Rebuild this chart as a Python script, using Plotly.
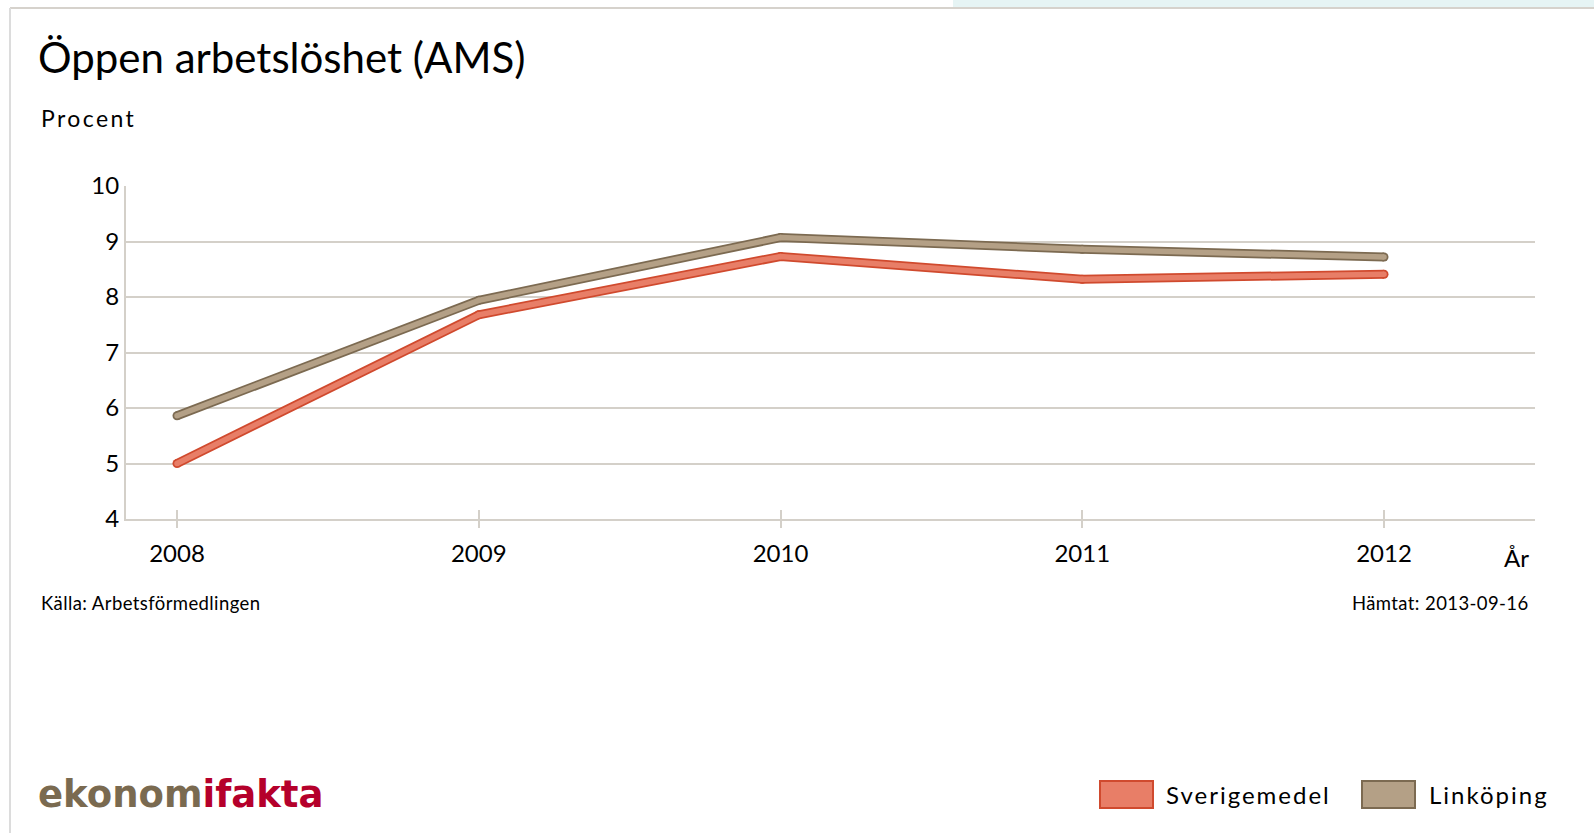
import plotly.graph_objects as go

# ---- data ----
years = [2008, 2009, 2010, 2011, 2012]
sverigemedel = [5.0, 7.68, 8.73, 8.32, 8.41]
linkoping = [5.86, 7.94, 9.07, 8.86, 8.72]
series_names = ["Sverigemedel", "Linköping"]
y_ticks = [4, 5, 6, 7, 8, 9, 10]
x_tick_labels = ["2008", "2009", "2010", "2011", "2012"]

# ---- styling ----
RED_DARK, RED_LIGHT = "#d04a2e", "#e87e67"
BRN_DARK, BRN_LIGHT = "#7c6a51", "#b4a086"
GRID = "#d4d0c9"
FONT = "Lato"

W, H = 1594, 833
PL, PR, PT, PB = 126, 1535, 186, 519  # plot area in pixels


def px(x):
    return (x - PL) / (PR - PL)


def py(y):
    return (PB - y) / (PB - PT)


XR = [2008 - (177 - PL) / 301.75, 2012 + (PR - 1384) / 301.75]

fig = go.Figure()

series = [
    (series_names[1], linkoping, BRN_DARK, BRN_LIGHT),
    (series_names[0], sverigemedel, RED_DARK, RED_LIGHT),
]
for name, vals, dark, light in series:
    fig.add_trace(go.Scatter(
        x=years, y=vals, mode="lines+markers",
        line=dict(color=dark, width=9),
        marker=dict(size=9, color=dark, line=dict(width=0)),
        showlegend=False, hoverinfo="skip",
    ))
for name, vals, dark, light in series:
    fig.add_trace(go.Scatter(
        x=years, y=vals, mode="lines+markers", name=name, xaxis="x2",
        line=dict(color=light, width=5.5),
        marker=dict(size=5.5, color=light, line=dict(width=0)),
        showlegend=False,
    ))

fig.update_layout(
    width=W, height=H,
    margin=dict(l=PL, r=W - PR, t=PT, b=H - PB, pad=0),
    paper_bgcolor="white", plot_bgcolor="white",
    font=dict(family=FONT, color="#000000"),
    showlegend=False,
    xaxis=dict(
        range=XR, tickvals=years, ticktext=x_tick_labels,
        showgrid=False, zeroline=False,
        showline=True, linecolor=GRID, linewidth=2,
        ticks="outside", ticklen=7, tickwidth=2, tickcolor=GRID,
        tickfont=dict(size=24, family=FONT, color="#000"),
        ticklabelstandoff=5,
    ),
    xaxis2=dict(
        range=XR, overlaying="x", anchor="y", side="bottom",
        tickvals=years, showticklabels=False,
        showgrid=False, zeroline=False, showline=False,
        ticks="inside", ticklen=9, tickwidth=2, tickcolor=GRID,
    ),
    yaxis=dict(
        range=[4, 10], tickvals=y_ticks,
        showgrid=True, gridcolor=GRID, gridwidth=2,
        zeroline=False, showline=True, linecolor=GRID, linewidth=2,
        ticks="", tickfont=dict(size=24, family=FONT, color="#000"),
        ticklabelstandoff=0,
    ),
)

shapes = [
    # top cyan band
    dict(type="rect", xref="paper", yref="paper", x0=px(953), x1=px(W), y0=py(0), y1=py(7),
         fillcolor="#e6f4f4", line=dict(width=0), layer="below"),
    # frame top & left
    dict(type="line", xref="paper", yref="paper", x0=px(10), x1=px(W), y0=py(8), y1=py(8),
         line=dict(color="#d6d2cc", width=2)),
    dict(type="line", xref="paper", yref="paper", x0=px(10), x1=px(10), y0=py(8), y1=py(H),
         line=dict(color="#dcdcdc", width=2)),
]

# manual legend (boxes)
legend_items = [
    (series_names[0], RED_DARK, RED_LIGHT, 1100, 1164),
    (series_names[1], BRN_DARK, BRN_LIGHT, 1362, 1427),
]
annotations = []
for name, dark, light, bx, tx in legend_items:
    shapes.append(dict(type="rect", xref="paper", yref="paper",
                       x0=px(bx), x1=px(bx + 53), y0=py(808), y1=py(781),
                       fillcolor=light, line=dict(color=dark, width=2)))
    annotations.append(dict(xref="paper", yref="paper", x=px(tx), y=py(794),
                            xanchor="left", yanchor="middle", showarrow=False,
                            text=f"<span style='letter-spacing:2px'>{name}</span>",
                            font=dict(size=24, family=FONT, color="#000")))

annotations += [
    dict(xref="paper", yref="paper", x=px(36), y=py(57), xanchor="left", yanchor="middle",
         showarrow=False, text="Öppen arbetslöshet (AMS)",
         font=dict(size=42, family=FONT, color="#000")),
    dict(xref="paper", yref="paper", x=px(39), y=py(118), xanchor="left", yanchor="middle",
         showarrow=False, text="<span style='letter-spacing:2.4px'>Procent</span>",
         font=dict(size=23, family=FONT, color="#000")),
    dict(xref="paper", yref="paper", x=px(1502), y=py(557), xanchor="left", yanchor="middle",
         showarrow=False, text="År", font=dict(size=24, family=FONT, color="#000")),
    dict(xref="paper", yref="paper", x=px(39), y=py(603), xanchor="left", yanchor="middle",
         showarrow=False, text="<span style='letter-spacing:0.4px'>Källa: Arbetsförmedlingen</span>",
         font=dict(size=18.5, family=FONT, color="#000")),
    dict(xref="paper", yref="paper", x=px(1531), y=py(603), xanchor="right", yanchor="middle",
         showarrow=False, text="<span style='letter-spacing:0.4px'>Hämtat: 2013-09-16</span>",
         font=dict(size=18.5, family=FONT, color="#000")),
    dict(xref="paper", yref="paper", x=px(36), y=py(794), xanchor="left", yanchor="middle",
         showarrow=False,
         text="<b><span style='color:#7a6a50'>ekonom</span><span style='color:#b5002b'>ifakta</span></b>",
         font=dict(size=37, family="DejaVu Sans", color="#7a6a50")),
]

fig.update_layout(shapes=shapes, annotations=annotations)

fig.write_html("out.html", config={"displayModeBar": False},
               post_script="document.body.style.margin='0';document.body.style.overflow='hidden';")
